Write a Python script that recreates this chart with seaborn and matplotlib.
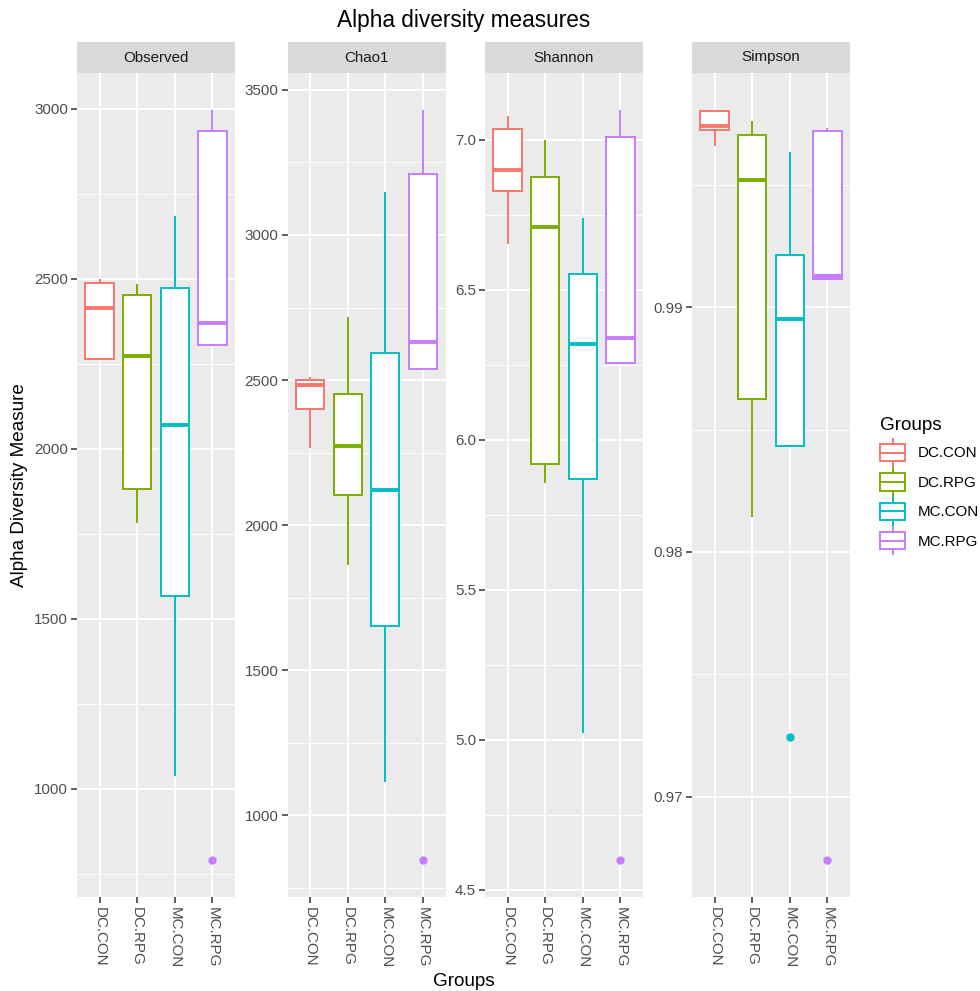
# Boxplots de diversidad alfa por grupo (4 medidas en paneles)
import numpy as np
import pandas as pd
import matplotlib.pyplot as plt
import seaborn as sns
from matplotlib.patches import Patch, Rectangle
from matplotlib.lines import Line2D
from matplotlib.legend_handler import HandlerBase

# Datos (5 muestras por grupo)
groups = ["DC.CON", "DC.RPG", "MC.CON", "MC.RPG"]
measures = ["Observed", "Chao1", "Shannon", "Simpson"]
colores = ["#F8766D", "#7CAE00", "#00BFC4", "#C77CFF"]

observed = {
    "DC.CON": [2263, 2263, 2415, 2488, 2498],
    "DC.RPG": [1782, 1882, 2274, 2451, 2486],
    "MC.CON": [1039, 1567, 2071, 2472, 2685],
    "MC.RPG": [792, 2305, 2370, 2935, 2995],
}
chao1 = {
    "DC.CON": [2267, 2402, 2483, 2499, 2510],
    "DC.RPG": [1862, 2103, 2274, 2453, 2717],
    "MC.CON": [1116, 1652, 2120, 2593, 3147],
    "MC.RPG": [848, 2537, 2631, 3211, 3429],
}
shannon = {
    "DC.CON": [6.653, 6.831, 6.898, 7.036, 7.078],
    "DC.RPG": [5.855, 5.918, 6.711, 6.877, 6.998],
    "MC.CON": [5.023, 5.870, 6.321, 6.553, 6.741],
    "MC.RPG": [4.601, 6.257, 6.341, 7.008, 7.098],
}
simpson = {
    "DC.CON": [0.99658, 0.99724, 0.99740, 0.99800, 0.99804],
    "DC.RPG": [0.98144, 0.98624, 0.99520, 0.99702, 0.99761],
    "MC.CON": [0.97242, 0.98433, 0.98953, 0.99213, 0.99633],
    "MC.RPG": [0.96743, 0.99116, 0.99129, 0.99722, 0.99731],
}

# Ticks de cada panel
major_ticks = {
    "Observed": [1000, 1500, 2000, 2500, 3000],
    "Chao1": [1000, 1500, 2000, 2500, 3000, 3500],
    "Shannon": [4.5, 5.0, 5.5, 6.0, 6.5, 7.0],
    "Simpson": [0.97, 0.98, 0.99],
}
tick_labels = {
    "Observed": ["1000", "1500", "2000", "2500", "3000"],
    "Chao1": ["1000", "1500", "2000", "2500", "3000", "3500"],
    "Shannon": ["4.5", "5.0", "5.5", "6.0", "6.5", "7.0"],
    "Simpson": ["0.97", "0.98", "0.99"],
}
minor_ticks = {
    "Observed": [750, 1250, 1750, 2250, 2750],
    "Chao1": [750, 1250, 1750, 2250, 2750, 3250],
    "Shannon": [4.75, 5.25, 5.75, 6.25, 6.75],
    "Simpson": [0.975, 0.985, 0.995],
}

# Pasamos todo a formato largo
filas = []
for m, d in zip(measures, [observed, chao1, shannon, simpson]):
    for g in groups:
        for v in d[g]:
            filas.append({"Measure": m, "Group": g, "Value": v})
df = pd.DataFrame(filas)

plt.rcParams["font.family"] = ["Liberation Sans", "DejaVu Sans"]

W, H = 980, 991
fig = plt.figure(figsize=(W / 100, H / 100), dpi=100)

lefts = [77, 287.5, 485, 692]  # borde izquierdo de cada panel (px)
ancho = 158
panel_top, panel_bot = 73, 897
strip_h = 31

for m, left in zip(measures, lefts):
    ax = fig.add_axes([left / W, (H - panel_bot) / H, ancho / W, (panel_bot - panel_top) / H])
    sub = df[df["Measure"] == m]
    sns.boxplot(data=sub, x="Group", y="Value", hue="Group", order=groups, hue_order=groups,
                palette=colores, saturation=1, width=0.75, linewidth=1.4, showcaps=False,
                flierprops=dict(marker="o", markersize=5), legend=False, ax=ax)

    # cajas blancas con borde de color (estilo ggplot)
    centros = []
    for p in ax.patches:
        c = p.get_facecolor()
        xs = p.get_path().vertices[:, 0]
        centros.append(((xs.min() + xs.max()) / 2, c))
        p.set_edgecolor(c)
        p.set_facecolor("white")
        p.set_linewidth(1.4)
    for ln in ax.lines:
        xd = np.asarray(ln.get_xdata(), float)
        if len(xd) == 0:
            continue
        c = min(centros, key=lambda t: abs(t[0] - xd.mean()))[1]
        ln.set_color(c)
        if ln.get_marker() == "o":
            ln.set_markerfacecolor(c)
            ln.set_markeredgecolor(c)
            continue
        yd = np.asarray(ln.get_ydata(), float)
        if len(yd) == 2 and yd[0] == yd[1] and xd[0] != xd[1]:
            ln.set_linewidth(2.8)  # mediana mas gruesa

    ax.set_facecolor("#EBEBEB")
    for s in ax.spines.values():
        s.set_visible(False)
    ax.set_xlim(-0.6, 3.6)
    v = sub["Value"]
    pad = 0.05 * (v.max() - v.min())
    ax.set_ylim(v.min() - pad, v.max() + pad)
    ax.set_yticks(major_ticks[m])
    ax.set_yticklabels(tick_labels[m])
    ax.set_yticks(minor_ticks[m], minor=True)
    ax.grid(which="major", color="white", linewidth=1.4)
    ax.grid(which="minor", axis="y", color="white", linewidth=0.7)
    ax.set_axisbelow(True)
    ax.tick_params(which="major", length=4, width=1.1, color="#333333",
                   labelsize=10.9, labelcolor="#4D4D4D", pad=2.5)
    ax.tick_params(which="minor", length=0)
    ax.tick_params(axis="x", labelrotation=270, pad=3)
    ax.set_xlabel("")
    ax.set_ylabel("")

    # franja con el nombre de la medida
    sax = fig.add_axes([left / W, (H - panel_top) / H, ancho / W, strip_h / H])
    sax.set_facecolor("#D9D9D9")
    sax.set_xticks([])
    sax.set_yticks([])
    for s in sax.spines.values():
        s.set_visible(False)
    sax.text(0.5, 0.5, m, ha="center", va="center", fontsize=10.9, color="#1A1A1A",
             transform=sax.transAxes)

fig.text(464 / W, (H - 20) / H, "Alpha diversity measures", ha="center", va="center", fontsize=16.3)
fig.text(464 / W, (H - 981) / H, "Groups", ha="center", va="center", fontsize=13.6)
fig.text(20 / W, (H - 485) / H, "Alpha Diversity Measure", ha="center", va="center",
         rotation=90, fontsize=13.6)


# Clave de leyenda con forma de boxplot (se sale un poco de su caja, como en ggplot)
class BoxKey(HandlerBase):
    def create_artists(self, legend, orig_handle, xdescent, ydescent, width, height, fontsize, trans):
        c = orig_handle.get_edgecolor()
        x0 = -xdescent
        yc = -ydescent + height / 2
        xm = x0 + width / 2
        hb, hw = 0.405 * height, 0.643 * height
        caja = Rectangle((x0, yc - hb), width, 2 * hb,
                         facecolor="white", edgecolor=c, linewidth=1.4, transform=trans)
        med = Line2D([x0, x0 + width], [yc, yc], color=c, lw=1.4, transform=trans)
        w1 = Line2D([xm, xm], [yc + hb, yc + hw], color=c, lw=1.4, transform=trans)
        w2 = Line2D([xm, xm], [yc - hw, yc - hb], color=c, lw=1.4, transform=trans)
        return [caja, med, w1, w2]


handles = [Patch(edgecolor=c, facecolor="white", label=g) for g, c in zip(groups, colores)]
fs_px = 10.9 * 100 / 72
fig.legend(handles=handles, loc="center left", bbox_to_anchor=(880 / W, (H - 484) / H),
           frameon=False, title="Groups", fontsize=10.9, title_fontsize=13.6,
           handler_map={Patch: BoxKey()}, handlelength=25 / fs_px, handleheight=1.757,
           labelspacing=0.56, handletextpad=0.81, borderpad=0, borderaxespad=0,
           alignment="left")

fig.savefig("out.png", dpi=100)
